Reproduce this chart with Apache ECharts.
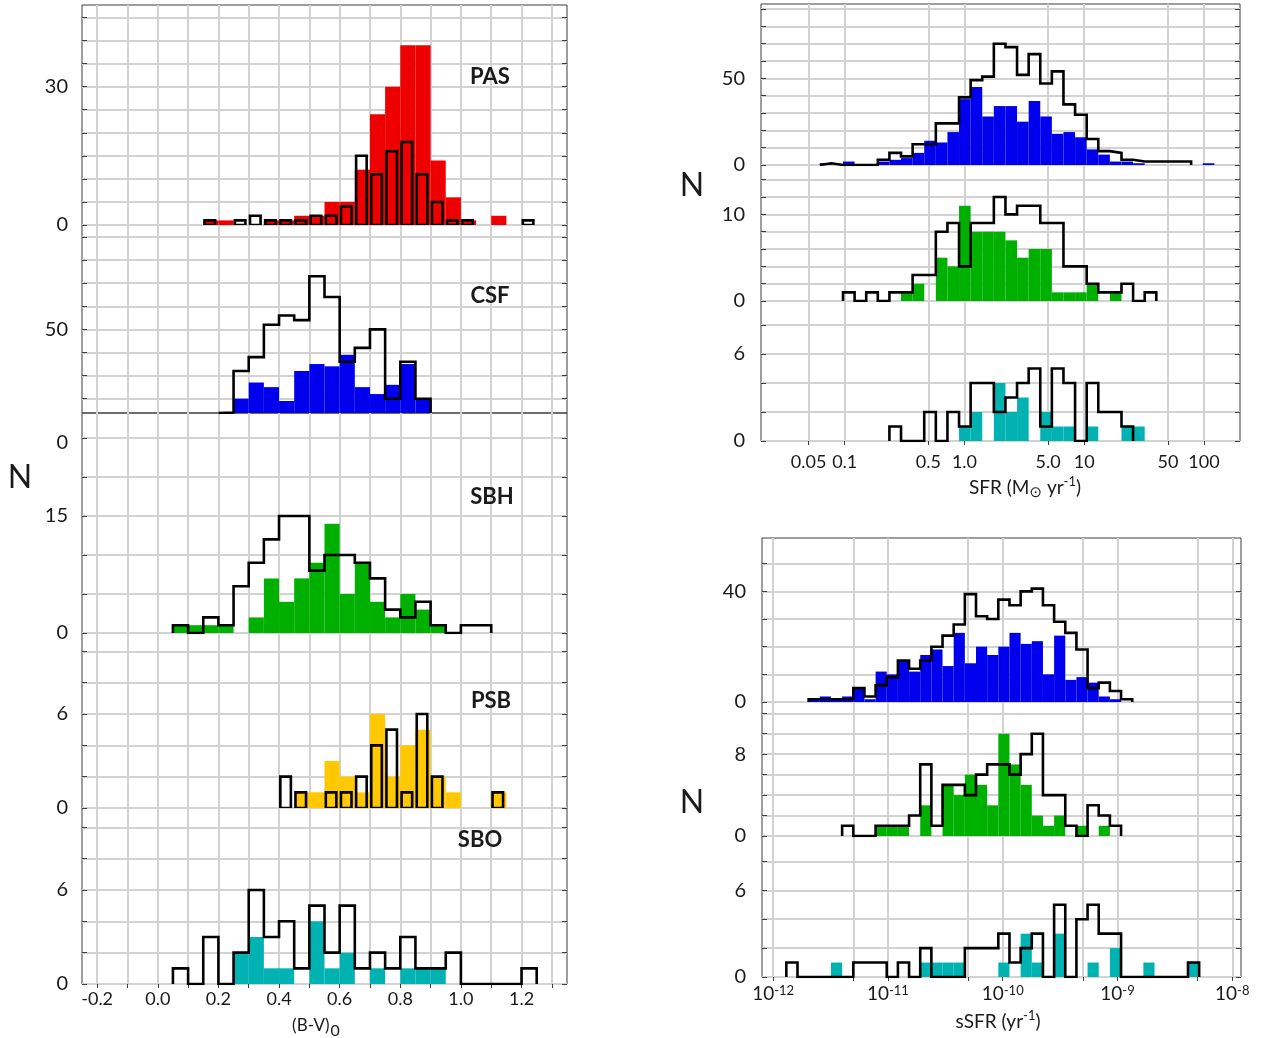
<!DOCTYPE html>
<html><head><meta charset="utf-8">
<script src="https://cdn.jsdelivr.net/npm/echarts@6/dist/echarts.min.js"></script>
<style>html,body{margin:0;padding:0;background:#fff}#c{width:1266px;height:1038px}</style>
</head><body><div id="c"></div><script>
// ================= DATA =================
// (B-V)_0 histograms: bin start values, width 0.05
const bvBinStarts = [0.05,0.10,0.15,0.20,0.25,0.30,0.35,0.40,0.45,0.50,0.55,0.60,0.65,0.70,0.75,0.80,0.85,0.90,0.95,1.00,1.05,1.10,1.15,1.20];
const bvBinWidth = 0.05;
const pasAll    = [0,0,1,0,1,2,1,1,1,2,2,4,15,11,16,18,11,5,1,1,0,0,0,1];
const pasRed    = [0,0,1,1,0,0,1,1,2,2,5,5,12,24,30,39,39,14,6,1,0,2,0,0];
const csfAll    = [0,0,0,14,32,38,52,56,54,73,64,36,42,50,20,36,20,0,0,0,0,0,0,0];
const csfBlue   = [0,0,0,0,20,27,25,19,32,35,34,39,25,22,26,35,20,0,0,0,0,0,0,0];
const sbhAll    = [1,0,2,1,6,9,12,15,15,8,10,10,9,7,3,2,4,1,0,1,1,0,0,0];
const sbhGreen  = [1,1,1,1,0,2,7,4,7,9,14,5,9,4,2,5,3,1,0,0,0,0,0,0];
const psbAll    = [0,0,0,0,0,0,0,2,1,0,1,1,2,4,5,1,6,2,0,0,0,1,0,0];
const psbYellow = [0,0,0,0,0,0,0,0,1,1,3,2,1,6,2,4,5,2,1,0,0,1,0,0];
const sboAll    = [1,0,3,0,2,6,3,4,1,5,2,5,1,2,1,3,1,1,2,0,0,0,0,1];
const sboCyan   = [0,0,0,0,2,3,1,1,0,4,1,2,0,1,0,1,1,1,0,0,0,0,0,0];

// SFR histograms (log10 bins)
const sfrBinStart = -1.208;
const sfrBinWidth = 0.0969;
const sfrAll1   = [1,0,0,0,0,3,7,5,12,12,24,24,39,49,51,70,68,52,64,47,54,35,29,15,8,7,3,2,2,2,2,2,0,0];
const sfrBlue   = [1,0,2,0,0,2,3,4,7,14,13,19,38,45,28,34,34,25,37,28,18,19,16,9,6,2,2,1,0,0,0,0,0,1];
const sfrAll2   = [0,0,1,0,1,0,1,1,3,3,8,9,4,9,9,12,10,11,11,9,9,4,4,2,1,1,2,0,1,0,0,0,0,0];
const sfrGreen  = [0,0,0,0,0,0,0,1,2,0,5,4,11,8,8,8,7,5,6,6,1,1,1,2,0,1,0,0,0,0,0,0,0,0];
const sfrAll3   = [0,0,0,0,0,0,1,0,0,2,0,2,1,4,4,2,3,4,5,1,5,4,0,4,2,2,1,0,0,0,0,0,0,0];
const sfrCyan   = [0,0,0,0,0,0,0,0,0,0,0,0,1,2,0,4,2,3,0,2,1,1,0,1,0,0,1,1,0,0,0,0,0,0];

// sSFR histograms (log10 bins)
const ssfrBinStart = -11.885;
const ssfrBinWidth = 0.0972;
const ssfrAll1  = [0,0,1,1,1,1,5,2,6,9,15,12,15,20,24,28,39,31,30,37,35,40,41,35,29,25,19,5,7,4,1,0,0,0,0,0,0];
const ssfrBlue  = [0,0,1,2,1,2,5,1,11,10,15,11,17,19,13,25,14,20,17,20,25,21,22,10,24,8,9,7,2,1,0,0,0,0,0,0,0];
const ssfrAll2  = [0,0,0,0,0,1,0,0,1,1,1,2,7,1,5,5,4,6,7,7,6,8,10,4,4,1,0,3,2,1,0,0,0,0,0,0,0];
const ssfrGreen = [0,0,0,0,0,0,0,0,1,1,1,0,3,0,5,4,6,5,3,10,7,5,2,1,2,0,1,0,1,0,0,0,0,0,0,0,0];
const ssfrAll3  = [1,0,0,0,0,0,1,1,1,0,1,0,2,0,0,0,2,2,2,3,1,2,3,0,5,0,4,5,3,3,0,0,0,0,0,0,1];
const ssfrCyan  = [0,0,0,0,1,0,0,0,0,0,0,0,1,1,1,1,0,0,0,1,0,3,1,0,3,0,0,1,0,2,0,0,1,0,0,0,1];

// tick values / labels
const bvGridValues  = [-0.2,-0.1,0,0.1,0.2,0.3,0.4,0.5,0.6,0.7,0.8,0.9,1.0,1.1,1.2,1.3];
const bvLabelValues = [-0.2,0,0.2,0.4,0.6,0.8,1.0,1.2];
const bvTickLabels  = ['-0.2','0.0','0.2','0.4','0.6','0.8','1.0','1.2'];
const sfrTickValues = [0.05,0.1,0.5,1,5,10,50,100];
const sfrTickLabels = ['0.05','0.1','0.5','1.0','5.0','10','50','100'];
const ssfrGridValues  = [1e-12,5e-12,1e-11,5e-11,1e-10,5e-10,1e-9,5e-9,1e-8];
const ssfrLabelExps   = [-12,-11,-10,-9,-8];

const pasYTicks = [0,5,10,15,20,25,30,35,40,45];  const pasYLabels = [0,30];
const csfYTicks = [20,30,40,50,60,70,80,90];       const csfYLabels = [50];
const sbhYTicks = [0,5,10,15,20,25];               const sbhYLabels = [0,15];
const psbYTicks = [0,2,4,6,8,10];                  const psbYLabels = [0,6];
const sboYTicks = [0,2,4,6,8,10];                  const sboYLabels = [0,6];
const sfr1YTicks = [0,10,20,30,40,50,60,70,80,90]; const sfr1YLabels = [0,50];
const sfr2YTicks = [0,2,4,6,8,10,12,14];           const sfr2YLabels = [0,10];
const sfr3YTicks = [0,2,4,6,8];                    const sfr3YLabels = [0,6];
const ssfr1YTicks = [0,10,20,30,40,50];            const ssfr1YLabels = [0,40];
const ssfr2YTicks = [0,2,4,6,8,10,12];             const ssfr2YLabels = [0,8];
const ssfr3YTicks = [0,2,4,6,8];                   const ssfr3YLabels = [0,6];

// ================= STYLE =================
const FONT = 'Lato';
const GRIDC = '#d2d2d2';
const FRAME = '#3c3c3c';
const TXT = '#1a1a1a';
const RED = '#ee0000', BLUE = '#0000ee', GREEN = '#00b000', YELLOW = '#ffc800', CYAN = '#00b2b2';

function nearest(arr, v) { let bi = 0, bd = Infinity; arr.forEach((a, i) => { const d = Math.abs(a - v); if (d < bd) { bd = d; bi = i; } }); return bi; }

const xDefs = {
  bv: { min: -0.25, max: 1.35, ticks: bvGridValues, labels: bvLabelValues,
        fmt: v => bvTickLabels[nearest(bvLabelValues, v)], margin: 6, size: 18, rich: null },
  sfr: { min: Math.log10(0.02), max: Math.log10(200), ticks: sfrTickValues.map(Math.log10), labels: sfrTickValues.map(Math.log10),
        fmt: v => sfrTickLabels[nearest(sfrTickValues.map(Math.log10), v)], margin: 12, size: 18, rich: null },
  ssfr: { min: -12.097, max: -7.924, ticks: ssfrGridValues.map(Math.log10), labels: ssfrLabelExps,
        fmt: v => '10{sup|' + ssfrLabelExps[nearest(ssfrLabelExps, v)] + '}', margin: 7, size: 19,
        rich: { sup: { fontFamily: FONT, fontSize: 13, lineHeight: 13, verticalAlign: 'top', color: TXT } } }
};

const panels = [
  { col: 'bv', g: {left: 82, top: 5, width: 485, height: 220}, yMin: 0, yMax: 47.7, yt: pasYTicks, yl: pasYLabels,
    starts: bvBinStarts, w: bvBinWidth, fill: pasRed, color: RED, all: pasAll, mode: 'bars', showX: false, lm: 14 },
  { col: 'bv', g: {left: 82, top: 225, width: 485, height: 188}, yMin: 13.8, yMax: 95.2, yt: csfYTicks, yl: csfYLabels,
    starts: bvBinStarts, w: bvBinWidth, fill: csfBlue, color: BLUE, all: csfAll, mode: 'step', showX: false, lm: 14 },
  { col: 'bv', g: {left: 82, top: 413, width: 485, height: 220}, yMin: 0, yMax: 28.2, yt: sbhYTicks, yl: sbhYLabels,
    starts: bvBinStarts, w: bvBinWidth, fill: sbhGreen, color: GREEN, all: sbhAll, mode: 'step', showX: false, lm: 14 },
  { col: 'bv', g: {left: 82, top: 633, width: 485, height: 175}, yMin: 0, yMax: 11.17, yt: psbYTicks, yl: psbYLabels,
    starts: bvBinStarts, w: bvBinWidth, fill: psbYellow, color: YELLOW, all: psbAll, mode: 'bars', showX: false, lm: 14 },
  { col: 'bv', g: {left: 82, top: 808, width: 485, height: 176}, yMin: 0, yMax: 11.23, yt: sboYTicks, yl: sboYLabels,
    starts: bvBinStarts, w: bvBinWidth, fill: sboCyan, color: CYAN, all: sboAll, mode: 'step', showX: true, lm: 14 },

  { col: 'sfr', g: {left: 761, top: 4, width: 479, height: 161}, yMin: 0, yMax: 92.9, yt: sfr1YTicks, yl: sfr1YLabels,
    start: sfrBinStart, w: sfrBinWidth, fill: sfrBlue, color: BLUE, all: sfrAll1, mode: 'step', showX: false, lm: 16 },
  { col: 'sfr', g: {left: 761, top: 165, width: 479, height: 136}, yMin: 0, yMax: 15.7, yt: sfr2YTicks, yl: sfr2YLabels,
    start: sfrBinStart, w: sfrBinWidth, fill: sfrGreen, color: GREEN, all: sfrAll2, mode: 'step', showX: false, lm: 16 },
  { col: 'sfr', g: {left: 761, top: 301, width: 479, height: 140}, yMin: 0, yMax: 9.66, yt: sfr3YTicks, yl: sfr3YLabels,
    start: sfrBinStart, w: sfrBinWidth, fill: sfrCyan, color: CYAN, all: sfrAll3, mode: 'step', showX: true, lm: 16 },

  { col: 'ssfr', g: {left: 762, top: 538, width: 479, height: 164}, yMin: 0, yMax: 59.3, yt: ssfr1YTicks, yl: ssfr1YLabels,
    start: ssfrBinStart, w: ssfrBinWidth, fill: ssfrBlue, color: BLUE, all: ssfrAll1, mode: 'step', showX: false, lm: 16 },
  { col: 'ssfr', g: {left: 762, top: 702, width: 479, height: 134}, yMin: 0, yMax: 13.1, yt: ssfr2YTicks, yl: ssfr2YLabels,
    start: ssfrBinStart, w: ssfrBinWidth, fill: ssfrGreen, color: GREEN, all: ssfrAll2, mode: 'step', showX: false, lm: 16 },
  { col: 'ssfr', g: {left: 762, top: 836, width: 479, height: 141}, yMin: 0, yMax: 9.76, yt: ssfr3YTicks, yl: ssfr3YLabels,
    start: ssfrBinStart, w: ssfrBinWidth, fill: ssfrCyan, color: CYAN, all: ssfrAll3, mode: 'step', showX: true, lm: 16 }
];

function binStart(p, i) { return p.starts ? p.starts[i] : p.start + i * p.w; }

const grid = [], xAxis = [], yAxis = [], series = [];
panels.forEach((p, gi) => {
  const xd = xDefs[p.col];
  grid.push(Object.assign({ show: true, borderColor: FRAME, borderWidth: 1, backgroundColor: 'transparent', containLabel: false }, p.g));
  xAxis.push({
    type: 'value', gridIndex: gi, min: xd.min, max: xd.max, position: 'bottom',
    axisLine: { show: false, onZero: false },
    axisTick: { show: p.showX, inside: false, length: 4, customValues: xd.ticks, lineStyle: { color: FRAME } },
    axisLabel: { show: p.showX, customValues: xd.labels, formatter: xd.fmt, fontFamily: FONT, fontSize: xd.size, color: TXT,
                 margin: xd.margin, rich: xd.rich || undefined },
    splitLine: { show: true, lineStyle: { color: GRIDC, width: 2 } }
  });
  yAxis.push({
    type: 'value', gridIndex: gi, min: p.yMin, max: p.yMax, position: 'left',
    axisLine: { show: false, onZero: false },
    axisTick: { show: true, inside: true, length: 5, customValues: p.yt, lineStyle: { color: FRAME, width: 1 } },
    axisLabel: { show: true, customValues: p.yl, fontFamily: FONT, fontSize: 20, color: TXT, margin: p.lm },
    splitLine: { show: true, lineStyle: { color: GRIDC, width: 2 } }
  });
  yAxis.push({
    type: 'value', gridIndex: gi, min: p.yMin, max: p.yMax, position: 'right',
    axisLine: { show: false, onZero: false },
    axisTick: { show: true, inside: true, length: 5, customValues: p.yt, lineStyle: { color: FRAME, width: 1 } },
    axisLabel: { show: false }, splitLine: { show: false }
  });
  const yi = gi * 2;
  // filled histogram
  const fillData = [];
  p.fill.forEach((v, i) => { if (v > 0) { const s = binStart(p, i); fillData.push([s, s + p.w, v]); } });
  series.push({
    type: 'custom', xAxisIndex: gi, yAxisIndex: yi, clip: true, z: 2, silent: true,
    itemStyle: { color: p.color },
    renderItem: (params, api) => {
      const a = api.coord([api.value(0), api.value(2)]);
      const b = api.coord([api.value(1), p.yMin]);
      return { type: 'rect', shape: { x: a[0], y: a[1], width: b[0] - a[0], height: b[1] - a[1] }, style: { fill: p.color } };
    },
    data: fillData
  });
  if (p.mode === 'bars') {
    const outData = [];
    p.all.forEach((v, i) => { if (v > 0) { const s = binStart(p, i); outData.push([s, s + p.w, v]); } });
    series.push({
      type: 'custom', xAxisIndex: gi, yAxisIndex: yi, clip: true, z: 4, silent: true,
      renderItem: (params, api) => {
        const a = api.coord([api.value(0), api.value(2)]);
        const b = api.coord([api.value(1), p.yMin]);
        return { type: 'rect', shape: { x: a[0] + 1.3, y: a[1], width: (b[0] - a[0]) - 4.6, height: b[1] - a[1] },
                 style: { fill: 'none', stroke: '#000', lineWidth: 2.6 } };
      },
      data: outData
    });
  } else {
    let first = -1, last = -1;
    p.all.forEach((v, i) => { if (v > 0) { if (first < 0) first = i; last = i; } });
    const pts = [[binStart(p, first), p.yMin]];
    for (let i = first; i <= last; i++) { const s = binStart(p, i); pts.push([s, p.all[i]]); pts.push([s + p.w, p.all[i]]); }
    pts.push([binStart(p, last) + p.w, p.yMin]);
    series.push({
      type: 'line', xAxisIndex: gi, yAxisIndex: yi, z: 4, silent: true, symbol: 'none', clip: true,
      lineStyle: { color: '#000', width: 2.6, join: 'miter' }, data: pts
    });
  }
});

const txt = (text, x, y, size, weight, align) => ({
  type: 'text', x, y, silent: true, z: 100,
  style: { text, font: (weight || 'normal') + ' ' + size + 'px ' + FONT, fill: TXT,
           align: align || 'center', verticalAlign: 'middle', textAlign: align || 'center', textVerticalAlign: 'middle' }
});
const richTxt = (text, x, y, size, rich) => ({
  type: 'text', x, y, silent: true, z: 100,
  style: { text, font: 'normal ' + size + 'px ' + FONT, fill: TXT, lineHeight: 26, rich,
           align: 'center', verticalAlign: 'middle', textAlign: 'center', textVerticalAlign: 'middle' }
});

const graphic = [
  txt('N', 20, 478, 32), txt('N', 692, 186, 32), txt('N', 692, 803, 32),
  txt('PAS', 490, 77, 22, 'bold'), txt('CSF', 490, 296, 22, 'bold'), txt('SBH', 492, 497, 22, 'bold'),
  txt('PSB', 491, 701, 22, 'bold'), txt('SBO', 480, 840, 22, 'bold'),
  txt('0', 68, 443, 20, 'normal', 'right'),
  richTxt('(B-V){sub|0}', 316, 1026, 17, { sub: { fontFamily: FONT, fontSize: 16, lineHeight: 14, verticalAlign: 'bottom', fill: TXT, padding: [0,0,0,1] } }),
  richTxt('SFR (M{sub|⊙} yr{sup|-1})', 1025, 488, 19, {
    sub: { fontFamily: 'DejaVu Sans', fontSize: 15, lineHeight: 15, verticalAlign: 'bottom', fill: TXT },
    sup: { fontFamily: FONT, fontSize: 13, lineHeight: 13, verticalAlign: 'top', fill: TXT } }),
  richTxt('sSFR (yr{sup|-1})', 998, 1022, 19, { sup: { fontFamily: FONT, fontSize: 13, lineHeight: 13, verticalAlign: 'top', fill: TXT } })
];

const chart = echarts.init(document.getElementById('c'), null, { renderer: 'canvas' });
chart.setOption({ animation: false, backgroundColor: '#fff', grid, xAxis, yAxis, series, graphic });
</script></body></html>
